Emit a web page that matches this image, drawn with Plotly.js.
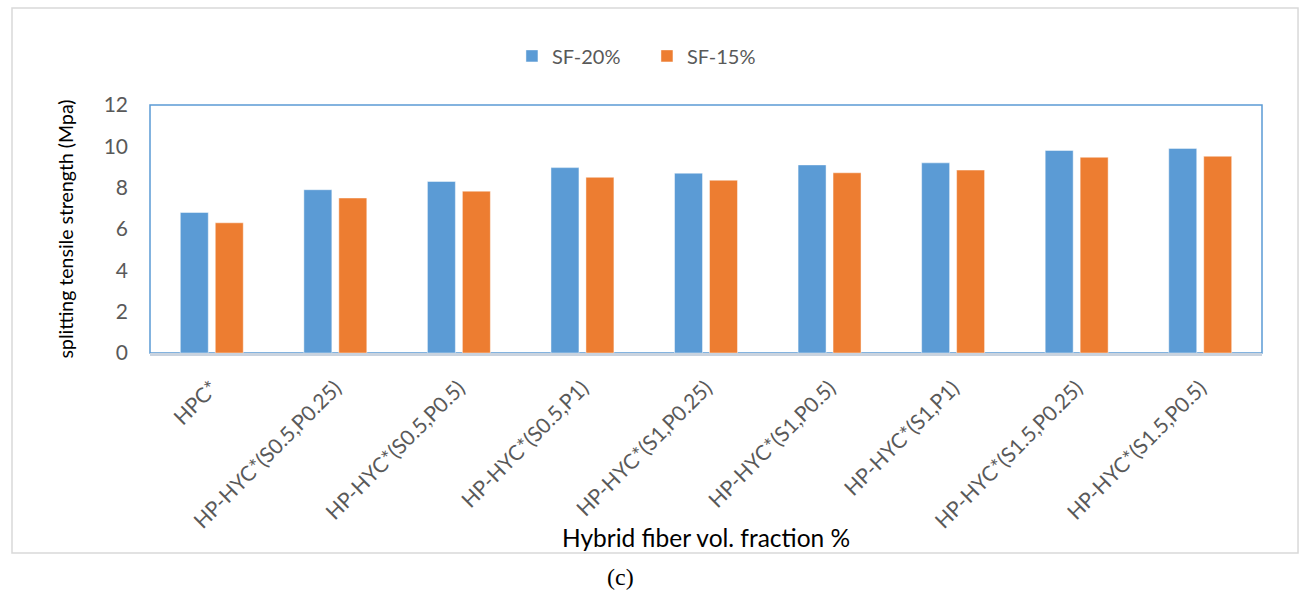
<!DOCTYPE html>
<html>
<head>
<meta charset="utf-8">
<script src="https://cdn.plot.ly/plotly-3.0.1.min.js"></script>
<style>html,body{margin:0;padding:0;background:#fff;}#chart{width:1301px;height:593px;}</style>
</head>
<body>
<div id="chart"></div>
<script>
const categories = ["HPC*", "HP-HYC*(S0.5,P0.25)", "HP-HYC*(S0.5,P0.5)", "HP-HYC*(S0.5,P1)", "HP-HYC*(S1,P0.25)", "HP-HYC*(S1,P0.5)", "HP-HYC*(S1,P1)", "HP-HYC*(S1.5,P0.25)", "HP-HYC*(S1.5,P0.5)"];
const sf20 = [6.8, 7.9, 8.3, 8.97, 8.7, 9.1, 9.2, 9.8, 9.9];
const sf15 = [6.3, 7.5, 7.83, 8.5, 8.36, 8.72, 8.85, 9.47, 9.52];
const yTicks = [0, 2, 4, 6, 8, 10, 12];
const xTitle = 'Hybrid fiber vol. fraction %';
const yTitle = 'splitting tensile strength (Mpa)';

const font = "Lato, 'Open Sans', sans-serif";
const traces = [
  {type: 'bar', name: 'SF-20%', x: categories, y: sf20, marker: {color: '#5B9BD5', line: {color: 'rgba(255,255,255,0.45)', width: 1}}},
  {type: 'bar', name: 'SF-15%', x: categories, y: sf15, marker: {color: '#ED7D31', line: {color: 'rgba(255,255,255,0.45)', width: 1}}}
];
const layout = {
  width: 1301, height: 593,
  margin: {l: 150, r: 39, t: 105, b: 240},
  paper_bgcolor: '#fff', plot_bgcolor: '#fff',
  barmode: 'group', bargap: 0.434, bargroupgap: 0.2,
  font: {family: font, color: '#595959', size: 20},
  showlegend: true,
  legend: {orientation: 'h', x: 0.3255, xanchor: 'left', y: 1.198, yanchor: 'middle',
           entrywidth: 90, entrywidthmode: 'pixels',
           font: {family: font, size: 20, color: '#595959'}, itemwidth: 30, bgcolor: 'rgba(0,0,0,0)'},
  xaxis: {
    type: 'category', tickangle: -45, showgrid: false, zeroline: false,
    showline: true, linecolor: '#C9D3DF', linewidth: 2.5,
    ticks: '', ticklen: 0, ticklabelstandoff: 12, tickfont: {family: font, size: 21, color: '#595959'}
  },
  yaxis: {
    range: [0, 12], tickvals: yTicks, ticktext: yTicks.map(String), showgrid: false, zeroline: false,
    showline: false, ticks: '', ticklabelstandoff: 21, tickfont: {family: font, size: 21, color: '#595959'},
    title: {text: yTitle, font: {family: font, size: 19.5, color: '#000'}, standoff: 24}
  },
  shapes: [
    {type: 'rect', xref: 'paper', yref: 'paper', x0: 0, x1: 1, y0: 0, y1: 1, line: {color: '#5B9BD5', width: 1.5}, layer: 'below'},
    {type: 'rect', xref: 'paper', yref: 'paper', x0: -0.1241, x1: 1.0324, y0: -0.806, y1: 1.391, line: {color: '#D9D9D9', width: 1.5}, layer: 'below'}
  ],
  annotations: [
    {text: xTitle, xref: 'paper', yref: 'paper', x: 0.5, y: -0.742, yanchor: 'middle', xanchor: 'center', showarrow: false,
     font: {family: font, size: 24.5, color: '#000'}},
    {text: '(c)', xref: 'paper', yref: 'paper', x: 0.4227, y: -0.903, yanchor: 'middle', xanchor: 'center', showarrow: false,
     font: {family: "'Liberation Serif', 'Times New Roman', serif", size: 24, color: '#000'}}
  ]
};
Plotly.newPlot('chart', traces, layout, {displayModeBar: false, staticPlot: true});
</script>
</body>
</html>
